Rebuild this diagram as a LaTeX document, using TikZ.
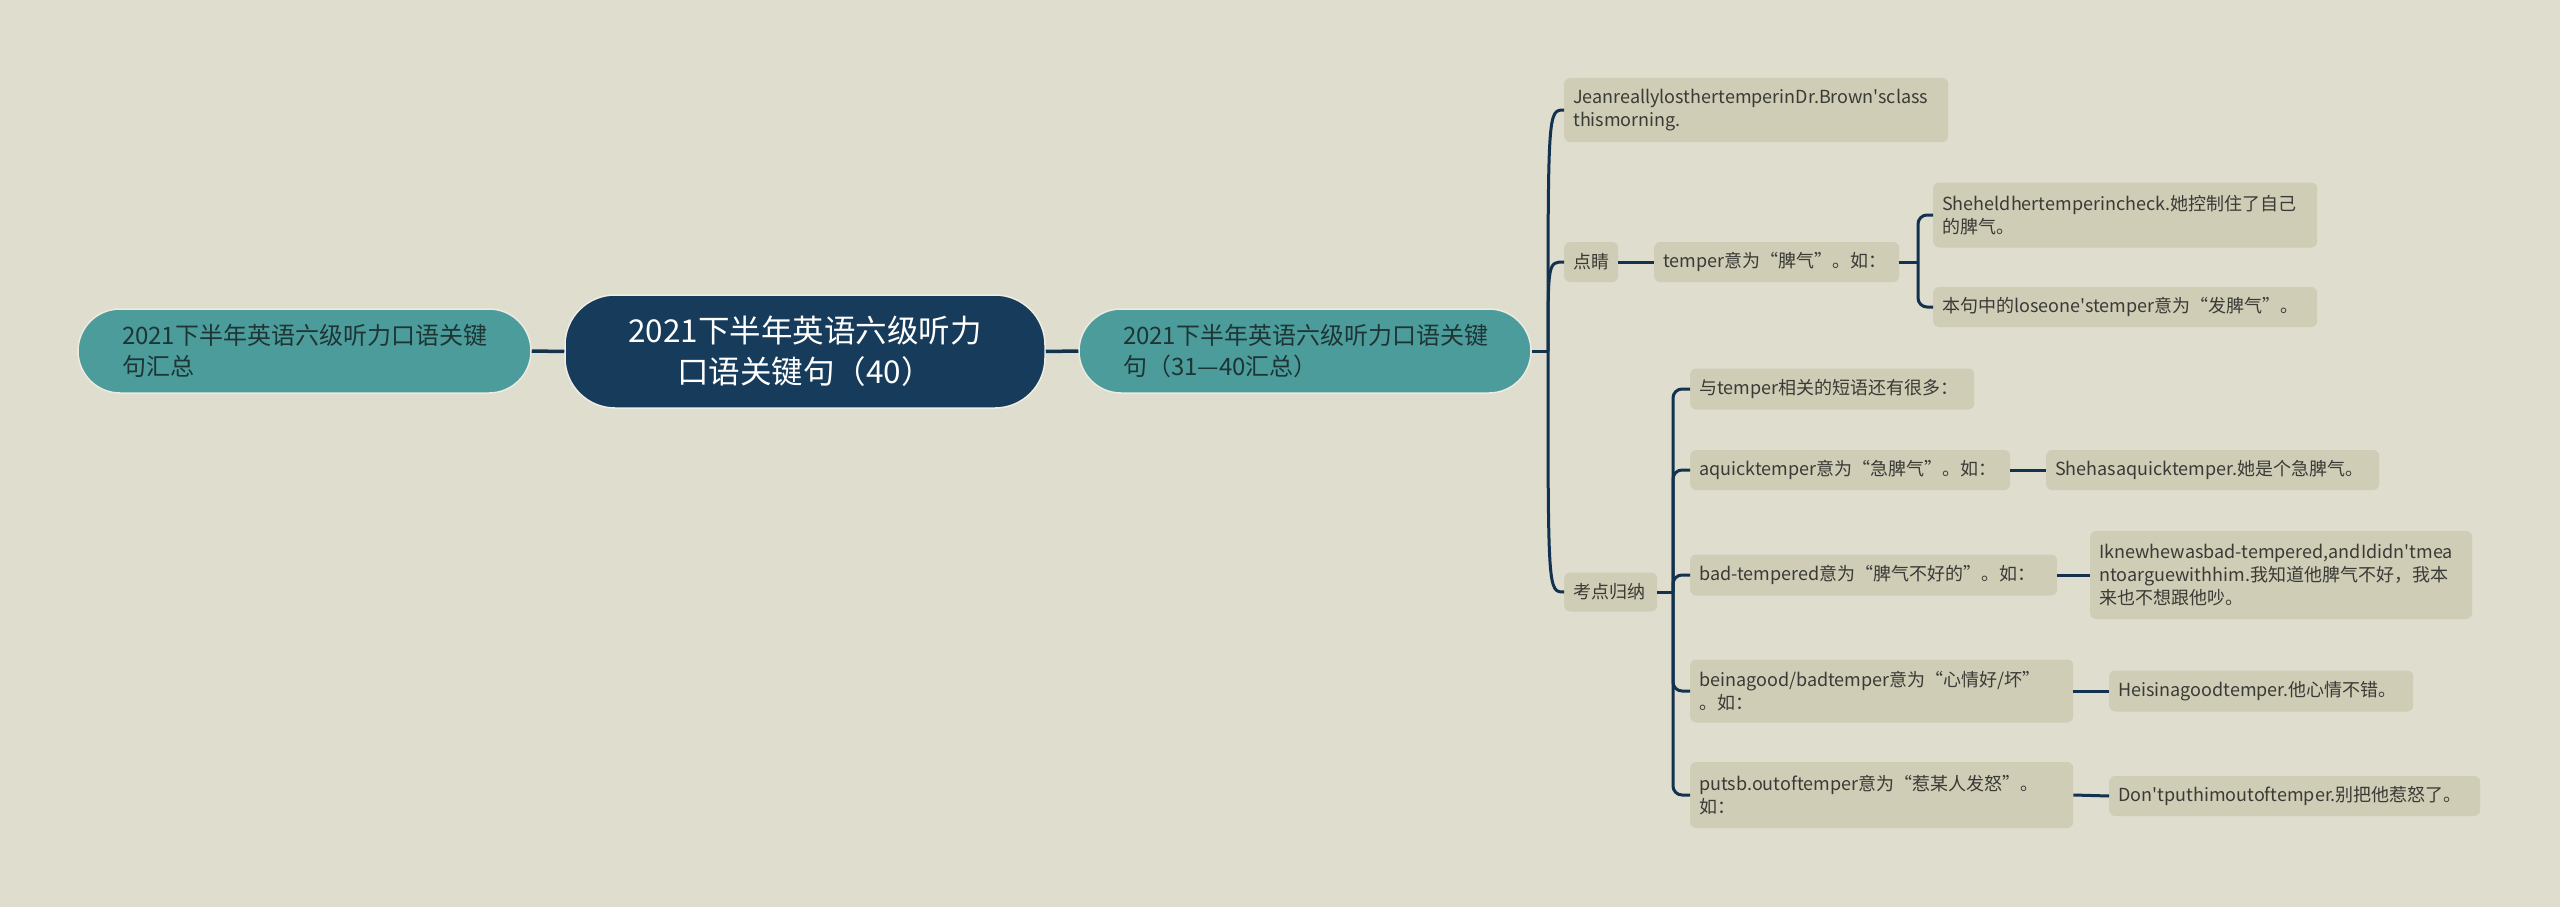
\documentclass[tikz,border=0pt]{standalone}
\usepackage{fontspec}
\setmainfont{Noto Sans CJK SC}[Ligatures=TeXOff]
\definecolor{bgc}{HTML}{DFDDCE}
\definecolor{leafc}{HTML}{CFCDB6}
\definecolor{tealc}{HTML}{4D9C9C}
\definecolor{rootc}{HTML}{173B5A}
\definecolor{linec}{HTML}{13324F}
\definecolor{txtc}{HTML}{3A3A36}
\definecolor{tealtxt}{HTML}{1E3535}
\tikzset{
  leaf/.style={rectangle, rounded corners=6pt, fill=leafc, inner xsep=9pt, inner ysep=0pt,
    anchor=west, align=left, text=txtc, font=\fontsize{18}{23}\selectfont},
  tealbox/.style={rectangle, rounded corners=42pt, fill=tealc, draw=bgc!60!white, line width=1.5pt,
    inner xsep=44pt, inner ysep=0pt, align=left, text=tealtxt, font=\fontsize{24}{31}\selectfont},
  rootbox/.style={rectangle, rounded corners=50pt, fill=rootc, draw=bgc!50!white, line width=1.5pt,
    inner sep=0pt, align=center, text=white, font=\fontsize{31.5}{41}\selectfont},
  conn/.style={draw=linec, line width=3pt},
}
\begin{document}
\begin{tikzpicture}[x=1pt,y=-1pt]
\useasboundingbox (0,0) rectangle (2560,907);
\fill[bgc] (0,0) rectangle (2560,907);

% central
\node[rootbox, minimum width=480pt, minimum height=113pt] (root) at (805,351.5)
  {2021下半年英语六级听力\\口语关键句（40）};
\node[tealbox, text width=365pt, minimum height=84pt] (left) at (304.5,351)
  {2021下半年英语六级听力口语关键\\句汇总};
\node[tealbox, text width=364pt, minimum height=84pt] (main) at (1305,351)
  {2021下半年英语六级听力口语关键\\句（31—40汇总）};

% level 2
\node[leaf, text width=366pt, minimum height=64pt] (jean) at (1564,110)
  {\mbox{JeanreallylosthertemperinDr.Brown'sclass}\\thismorning.};
\node[leaf, text width=36pt, minimum height=40pt] (dj) at (1564,262) {点睛};
\node[leaf, text width=75pt, minimum height=39pt] (kd) at (1564,592) {考点归纳};

% 点睛 subtree
\node[leaf, text width=227pt, minimum height=40pt] (tmp) at (1654,262) {temper意为“脾气”。如：};
\node[leaf, text width=366pt, minimum height=65pt] (she1) at (1933,215)
  {Sheheldhertemperincheck.她控制住了自己\\的脾气。};
\node[leaf, text width=366pt, minimum height=40pt] (ben) at (1933,307)
  {\mbox{本句中的loseone'stemper意为“发脾气”。}};

% 考点归纳 subtree
\node[leaf, text width=266pt, minimum height=41pt] (yu) at (1690,389) {与temper相关的短语还有很多：};
\node[leaf, text width=302pt, minimum height=40pt] (aq) at (1690,470) {aquicktemper意为“急脾气”。如：};
\node[leaf, text width=315pt, minimum height=40pt] (sha) at (2046,470) {Shehasaquicktemper.她是个急脾气。};
\node[leaf, text width=349pt, minimum height=41pt] (bad) at (1690,575) {\mbox{bad-tempered意为“脾气不好的”。如：}};
\node[leaf, text width=364pt, minimum height=88pt] (ik) at (2090,575)
  {\mbox{Iknewhewasbad-tempered,andIdidn'tmea}\\ntoarguewithhim.我知道他脾气不好，我本\\来也不想跟他吵。};
\node[leaf, text width=365pt, minimum height=63pt] (bgd) at (1690,691)
  {beinagood/badtemper意为“心情好/坏”\\。如：};
\node[leaf, text width=286pt, minimum height=41pt] (hei) at (2109,691) {Heisinagoodtemper.他心情不错。};
\node[leaf, text width=365pt, minimum height=66pt] (put) at (1690,795)
  {putsb.outoftemper意为“惹某人发怒”。\\如：};
\node[leaf, text width=353pt, minimum height=40pt] (dont) at (2109,796) {\mbox{Don'tputhimoutoftemper.别把他惹怒了。}};

% connectors
\draw[conn, line width=3.5pt] (left.east) -- (root.west);
\draw[conn, line width=3.5pt] (root.east) -- (main.west);

\coordinate (t1) at (1548,351);
\draw[conn] (main.east) -- (t1);
\foreach \c in {jean,dj,kd}{
  \draw[conn] (t1) .. controls (t1 |- \c.west) .. (\c.west);
}

\draw[conn] (dj.east) -- (tmp.west);
\coordinate (t2) at (1918,262);
\draw[conn] (tmp.east) -- (t2);
\foreach \c in {she1,ben}{
  \draw[conn, rounded corners=9pt] (t2) |- (\c.west);
}

\coordinate (t3) at (1673,592);
\draw[conn] (kd.east) -- (t3);
\foreach \c in {yu,aq,bad,bgd,put}{
  \draw[conn, rounded corners=9pt] (t3) |- (\c.west);
}
\draw[conn] (aq.east) -- (sha.west);
\draw[conn] (bad.east) -- (ik.west);
\draw[conn] (bgd.east) -- (hei.west);
\draw[conn] (put.east) -- (dont.west);
\end{tikzpicture}
\end{document}
